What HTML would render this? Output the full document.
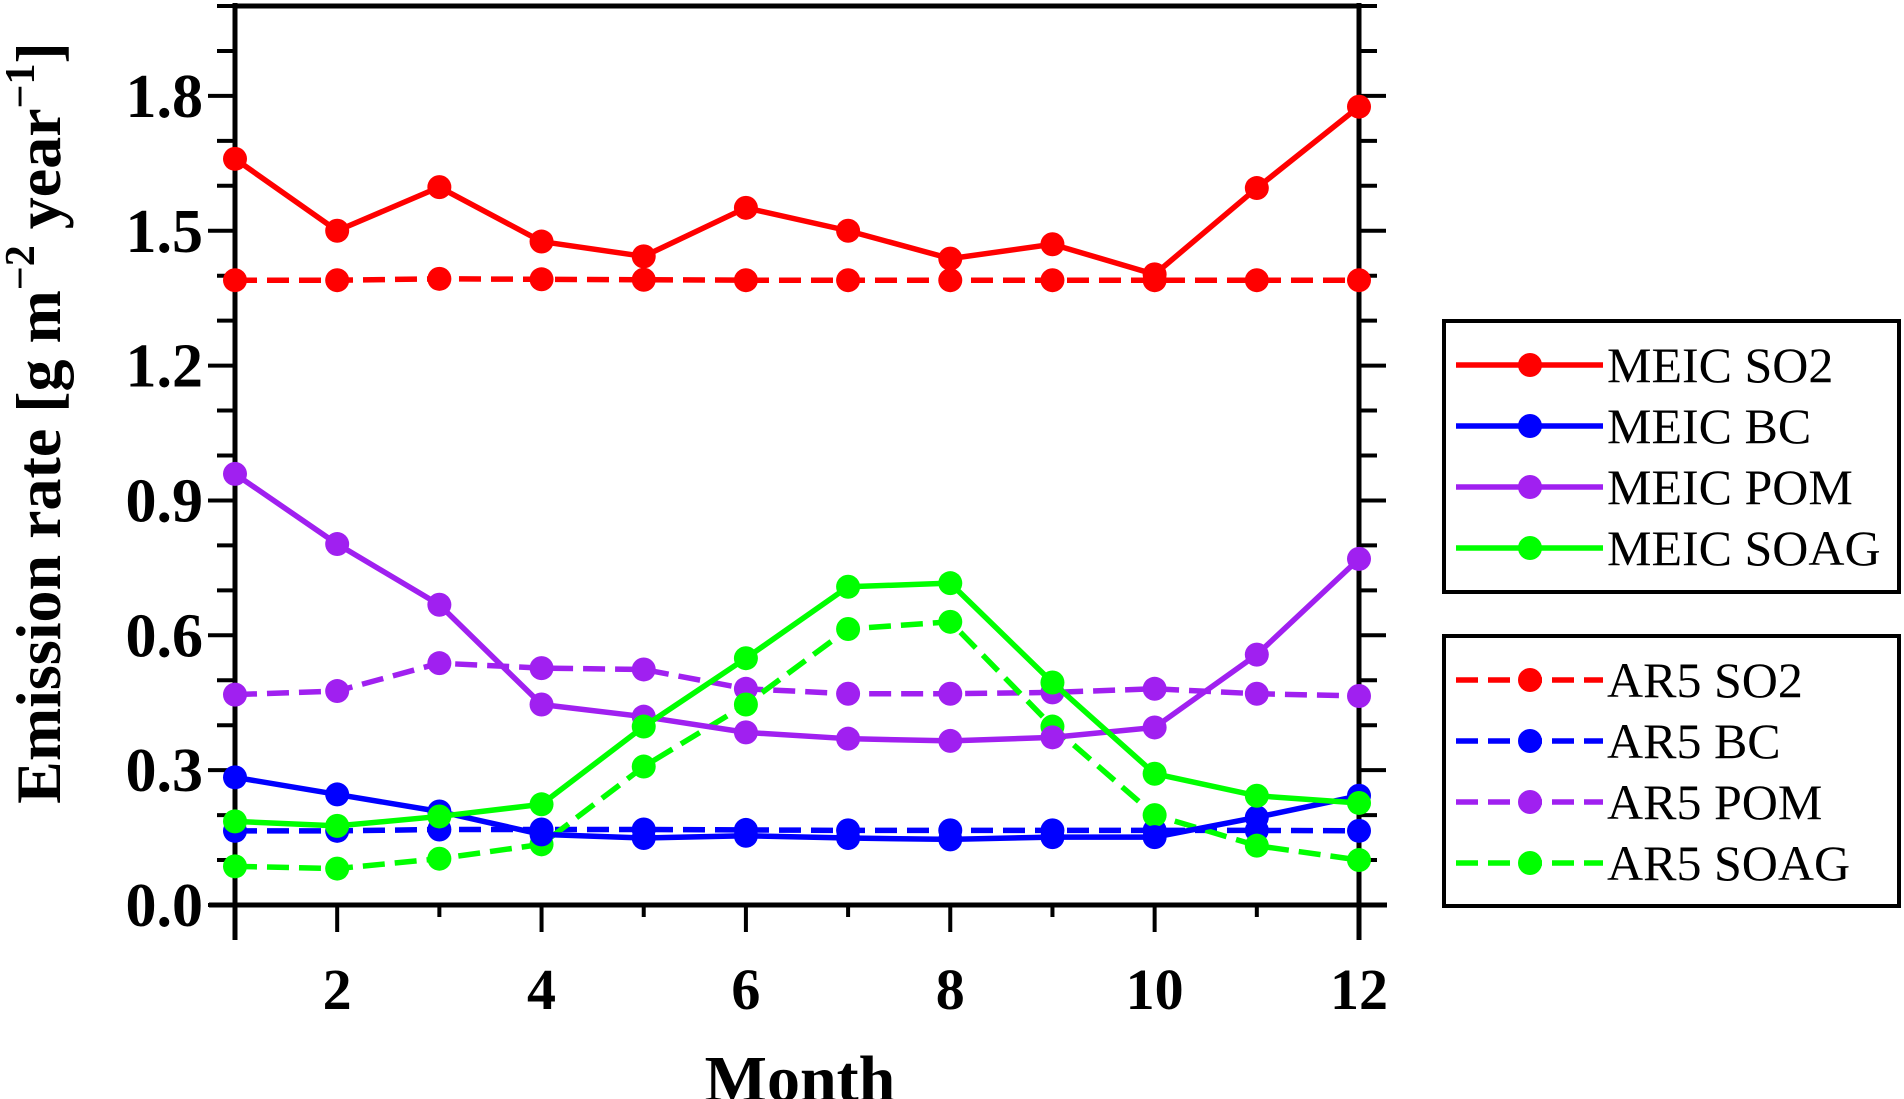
<!DOCTYPE html>
<html><head><meta charset="utf-8"><style>
html,body{margin:0;padding:0;background:#fff;}
svg{display:block;font-family:"Liberation Serif",serif;}
</style></head><body>
<svg id="chart" width="1904" height="1099" viewBox="0 0 1904 1099" xmlns="http://www.w3.org/2000/svg"></svg>
<script>
const months=[1,2,3,4,5,6,7,8,9,10,11,12];
const meicSO2=[1.66,1.50,1.597,1.476,1.443,1.551,1.50,1.438,1.47,1.403,1.595,1.776];
const ar5SO2=[1.39,1.39,1.393,1.392,1.391,1.39,1.39,1.39,1.39,1.39,1.39,1.39];
const meicBC=[0.284,0.246,0.208,0.157,0.149,0.154,0.149,0.146,0.151,0.151,0.195,0.243];
const ar5BC=[0.165,0.165,0.168,0.168,0.168,0.167,0.166,0.166,0.166,0.166,0.166,0.165];
const meicPOM=[0.959,0.803,0.668,0.446,0.419,0.384,0.37,0.365,0.373,0.395,0.557,0.77];
const ar5POM=[0.468,0.476,0.538,0.527,0.524,0.481,0.47,0.47,0.473,0.481,0.47,0.465];
const meicSOAG=[0.186,0.176,0.197,0.224,0.397,0.549,0.708,0.716,0.495,0.292,0.243,0.227];
const ar5SOAG=[0.086,0.081,0.103,0.135,0.308,0.446,0.614,0.63,0.397,0.2,0.132,0.1];
const yTicks=[0.0,0.3,0.6,0.9,1.2,1.5,1.8];
const xTicks=[2,4,6,8,10,12];

const NS="http://www.w3.org/2000/svg";
const svg=document.getElementById('chart');
const L=235,R=1359,T=6,B=905;
const x=m=>L+(m-1)*(R-L)/11;
const y=v=>B-v*(B-T)/2.0;
function el(tag,attrs,parent){const e=document.createElementNS(NS,tag);for(const k in attrs)e.setAttribute(k,attrs[k]);(parent||svg).appendChild(e);return e;}

const axes=el('g',{});


el('line',{x1:L,y1:T,x2:R,y2:T,stroke:'#000','stroke-width':5},axes);
el('line',{x1:L,y1:T-3,x2:L,y2:940,stroke:'#000','stroke-width':5},axes);
el('line',{x1:R,y1:T-3,x2:R,y2:940,stroke:'#000','stroke-width':5},axes);
el('line',{x1:209,y1:B,x2:1387,y2:B,stroke:'#000','stroke-width':5},axes);
for(let i=0;i<=20;i++){const v=i/10;const yy=y(v);const major=(i%3===0);
 const len=major?27:18;
 el('line',{x1:L-len,y1:yy,x2:L,y2:yy,stroke:'#000','stroke-width':4},axes);
 el('line',{x1:R,y1:yy,x2:R+len,y2:yy,stroke:'#000','stroke-width':4},axes);
}
yTicks.forEach(v=>{const t=el('text',{x:L-32,y:y(v)+21,'text-anchor':'end','font-size':62,'font-weight':'bold'});t.textContent=v.toFixed(1);

});
months.forEach(m=>{const major=m%2===0;el('line',{x1:x(m),y1:B,x2:x(m),y2:B+(major?27:12),stroke:'#000','stroke-width':4},axes);});
xTicks.forEach(m=>{const t=el('text',{x:x(m),y:1009,'text-anchor':'middle','font-size':58,'font-weight':'bold'});t.textContent=m;

});
const xt=el('text',{x:800,y:1099+2,'text-anchor':'middle','font-size':66,'font-weight':'bold'});xt.textContent='Month';


const yt=el('text',{x:0,y:0,'text-anchor':'middle','font-size':64,'font-weight':'bold',transform:'translate(60,423) rotate(-90)'});
yt.innerHTML='Emission rate [g m<tspan dy="-26" font-size="42">\u22122</tspan><tspan dy="26"> year</tspan><tspan dy="-26" font-size="42">\u22121</tspan><tspan dy="26">]</tspan>';



const series=[
 {d:ar5SO2,c:'#ff0000',dash:true,n:'ar5-so2'},
 {d:ar5BC,c:'#0000ff',dash:true,n:'ar5-bc'},
 {d:ar5POM,c:'#a020f0',dash:true,n:'ar5-pom'},
 {d:ar5SOAG,c:'#00ff00',dash:true,n:'ar5-soag'},
 {d:meicSO2,c:'#ff0000',dash:false,n:'meic-so2'},
 {d:meicBC,c:'#0000ff',dash:false,n:'meic-bc'},
 {d:meicPOM,c:'#a020f0',dash:false,n:'meic-pom'},
 {d:meicSOAG,c:'#00ff00',dash:false,n:'meic-soag'}];
series.forEach(s=>{
 const g=el('g',{});
 
 
 const pts=s.d.map((v,i)=>x(months[i])+','+y(v)).join(' ');
 const a={points:pts,fill:'none',stroke:s.c,'stroke-width':5.5,'stroke-linejoin':'round'};
 if(s.dash)a['stroke-dasharray']='22 10';
 const pl=el('polyline',a,g);
 
 
 s.d.forEach((v,i)=>{const c=el('circle',{cx:x(months[i]),cy:y(v),r:12,fill:s.c},g);
 
 });
});

function legend(box,items,name){
 const g=el('g',{});
 
 
 el('rect',{x:box[0],y:box[1],width:box[2],height:box[3],fill:'#fff',stroke:'#000','stroke-width':4},g);
 items.forEach((it,i)=>{const yy=box[1]+44+i*61;
  const a={x1:1456,y1:yy,x2:1603,y2:yy,stroke:it.c,'stroke-width':5.5};
  if(it.dash)a['stroke-dasharray']='22 10';
  el('line',a,g);el('circle',{cx:1530,cy:yy,r:12,fill:it.c},g);
  const t=el('text',{x:1607,y:yy+17,'font-size':50},g);t.textContent=it.t;
  
  });
}
legend([1444,321,455,271],[{c:'#ff0000',t:'MEIC SO2'},{c:'#0000ff',t:'MEIC BC'},{c:'#a020f0',t:'MEIC POM'},{c:'#00ff00',t:'MEIC SOAG'}],'legend-meic');
legend([1444,636,455,270],[{c:'#ff0000',t:'AR5 SO2',dash:1},{c:'#0000ff',t:'AR5 BC',dash:1},{c:'#a020f0',t:'AR5 POM',dash:1},{c:'#00ff00',t:'AR5 SOAG',dash:1}],'legend-ar5');
</script>
</body></html>
